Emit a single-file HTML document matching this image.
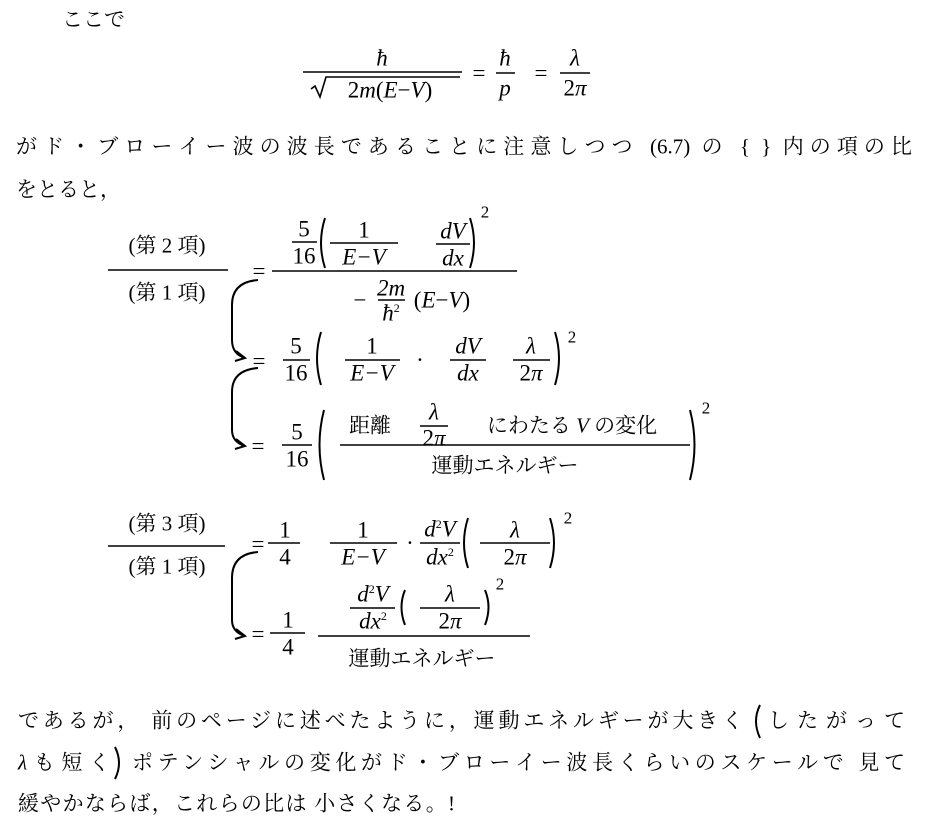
<!DOCTYPE html>
<html><head><meta charset="utf-8"><style>
html,body{margin:0;padding:0;background:#fff;}
body{width:939px;height:830px;position:relative;overflow:hidden;color:#000;font-family:"Liberation Serif","Noto Serif CJK SC",serif;}
.c{position:absolute;transform:translate(-50%,-50%);white-space:nowrap;line-height:1;}
.l{position:absolute;white-space:nowrap;line-height:1;transform:translateY(-50%);}
.j{font-family:"Liberation Serif","Noto Serif CJK SC",serif;font-size:21px;}
.m{font-style:italic;font-size:23px;}
.n{font-size:23px;}
.s{font-size:17px;}
.t{position:absolute;font-size:21px;text-align:justify;text-align-last:justify;line-height:1;transform:translateY(-50%);white-space:nowrap;}
</style></head><body>
<svg width="939" height="830" style="position:absolute;left:0;top:0" fill="none" stroke="#000" stroke-width="1.6">
<line x1="303" y1="72" x2="462" y2="72"/><line x1="496" y1="73" x2="515" y2="73"/><line x1="560" y1="73" x2="590" y2="73"/>
<path d="M311,89 l4,-3 l5,11 l6,-20 h134"/>
<line x1="108" y1="270" x2="228" y2="270"/><line x1="292" y1="242" x2="317" y2="242"/><line x1="330" y1="243" x2="398" y2="243"/><line x1="436" y1="244" x2="470" y2="244"/><line x1="272" y1="271" x2="517" y2="271"/><line x1="378" y1="300" x2="405" y2="300"/>
<line x1="283" y1="360" x2="310" y2="360"/><line x1="345" y1="360" x2="400" y2="360"/><line x1="450" y1="360" x2="486" y2="360"/><line x1="513" y1="360" x2="550" y2="360"/>
<line x1="282" y1="445" x2="312" y2="445"/><line x1="340" y1="445" x2="690" y2="445"/><line x1="420" y1="426" x2="448" y2="426"/>
<line x1="108" y1="546" x2="225" y2="546"/><line x1="268" y1="543" x2="300" y2="543"/><line x1="330" y1="543" x2="397" y2="543"/><line x1="420" y1="543" x2="460" y2="543"/><line x1="480" y1="543" x2="550" y2="543"/>
<line x1="270" y1="633" x2="305" y2="633"/><line x1="318" y1="636" x2="530" y2="636"/><line x1="350" y1="608" x2="395" y2="608"/><line x1="420" y1="608" x2="480" y2="608"/>
<g stroke-width="2">
<path d="M325,218 Q317,243 325,268"/><path d="M470,218 Q478,243 470,268"/>
<path d="M321,332 Q313,358 321,385"/><path d="M555,332 Q563,358 555,385"/>
<path d="M324,410 Q315,445 324,480"/><path d="M690,410 Q699,445 690,480"/>
<path d="M468,518 Q460,543 468,568"/><path d="M550,518 Q558,543 550,568"/>
<path d="M405,590 Q398,607 405,625"/><path d="M485,590 Q492,607 485,625"/>
<path d="M760,705 Q752,721 760,738"/><path d="M115,747 Q123,763 115,779"/>
<path d="M258,280 Q232,282 232,305 L232,340 Q232,354 245,358"/><path d="M236,351 L245,358 L235,361"/>
<path d="M258,368 Q232,370 232,392 L232,430 Q232,442 245,446"/><path d="M236,439 L245,446 L235,449"/>
<path d="M258,552 Q232,554 232,578 L232,620 Q232,632 245,636"/><path d="M236,629 L245,636 L235,639"/>
</g>
</svg>
<div class="l j" style="left:62px;top:20px">ここで</div>
<div class="c m" style="left:382px;top:58px">ħ</div>
<div class="c n" style="left:390px;top:90px">2<i>m</i>(<i>E</i>−<i>V</i>)</div>
<div class="c n" style="left:479px;top:73px">=</div>
<div class="c m" style="left:505px;top:58px">ħ</div>
<div class="c m" style="left:505px;top:88px">p</div>
<div class="c n" style="left:541px;top:73px">=</div>
<div class="c m" style="left:575px;top:58px">λ</div>
<div class="c n" style="left:575px;top:88px">2<i>π</i></div>
<div class="t" style="left:16px;width:896px;top:147px">がド・ブローイー波の波長であることに注意しつつ (6.7) の { } 内の項の比</div>
<div class="l j" style="left:16px;top:190px">をとると，</div>
<div class="c j" style="left:167px;top:246px">(第 2 項)</div>
<div class="c j" style="left:167px;top:293px">(第 1 項)</div>
<div class="c n" style="left:259px;top:271px">=</div>
<div class="c n" style="left:304px;top:229px">5</div><div class="c n" style="left:304px;top:256px">16</div>
<div class="c n" style="left:364px;top:230px">1</div><div class="c m" style="left:364px;top:257px">E−V</div>
<div class="c m" style="left:453px;top:231px">dV</div><div class="c m" style="left:453px;top:258px">dx</div>
<div class="c s" style="left:485px;top:212px">2</div>
<div class="c n" style="left:360px;top:300px">−</div>
<div class="c m" style="left:391px;top:288px">2m</div><div class="c m" style="left:391px;top:313px">ħ<sup style="font-size:12px;font-style:normal">2</sup></div>
<div class="c n" style="left:442px;top:300px">(<i>E</i>−<i>V</i>)</div>
<div class="c n" style="left:259px;top:361px">=</div>
<div class="c n" style="left:296px;top:346px">5</div><div class="c n" style="left:296px;top:373px">16</div>
<div class="c n" style="left:372px;top:346px">1</div><div class="c m" style="left:372px;top:373px">E−V</div>
<div class="c n" style="left:420px;top:360px">·</div>
<div class="c m" style="left:468px;top:346px">dV</div><div class="c m" style="left:468px;top:373px">dx</div>
<div class="c m" style="left:531px;top:346px">λ</div><div class="c n" style="left:531px;top:373px">2<i>π</i></div>
<div class="c s" style="left:572px;top:337px">2</div>
<div class="c n" style="left:258px;top:446px">=</div>
<div class="c n" style="left:297px;top:432px">5</div><div class="c n" style="left:297px;top:459px">16</div>
<div class="c j" style="left:370px;top:426px">距離</div>
<div class="c m" style="left:434px;top:412px">λ</div><div class="c n" style="left:434px;top:438px">2<i>π</i></div>
<div class="c j" style="left:572px;top:426px">にわたる <i style="font-family:'Liberation Serif'">V</i> の変化</div>
<div class="c j" style="left:505px;top:466px">運動エネルギー</div>
<div class="c s" style="left:706px;top:408px">2</div>
<div class="c j" style="left:167px;top:524px">(第 3 項)</div>
<div class="c j" style="left:167px;top:567px">(第 1 項)</div>
<div class="c n" style="left:258px;top:544px">=</div>
<div class="c n" style="left:285px;top:530px">1</div><div class="c n" style="left:285px;top:557px">4</div>
<div class="c n" style="left:363px;top:530px">1</div><div class="c m" style="left:363px;top:557px">E−V</div>
<div class="c n" style="left:410px;top:543px">·</div>
<div class="c m" style="left:440px;top:529px">d<sup style="font-size:12px;font-style:normal">2</sup>V</div><div class="c m" style="left:440px;top:557px">dx<sup style="font-size:12px;font-style:normal">2</sup></div>
<div class="c m" style="left:515px;top:530px">λ</div><div class="c n" style="left:515px;top:557px">2<i>π</i></div>
<div class="c s" style="left:568px;top:518px">2</div>
<div class="c n" style="left:258px;top:634px">=</div>
<div class="c n" style="left:288px;top:620px">1</div><div class="c n" style="left:288px;top:647px">4</div>
<div class="c m" style="left:373px;top:594px">d<sup style="font-size:12px;font-style:normal">2</sup>V</div><div class="c m" style="left:373px;top:621px">dx<sup style="font-size:12px;font-style:normal">2</sup></div>
<div class="c m" style="left:450px;top:594px">λ</div><div class="c n" style="left:450px;top:621px">2<i>π</i></div>
<div class="c s" style="left:500px;top:584px">2</div>
<div class="c j" style="left:422px;top:659px">運動エネルギー</div>
<div class="t" style="left:18px;width:725px;top:721px">であるが， 前のページに述べたように，運動エネルギーが大きく</div>
<div class="t" style="left:768px;width:137px;top:721px">したがって</div>
<div class="t" style="left:18px;width:92px;top:763px"><i style="font-family:'Liberation Serif'">λ</i>も短く</div>
<div class="t" style="left:132px;width:773px;top:763px">ポテンシャルの変化がド・ブローイー波長くらいのスケールで 見て</div>
<div class="t" style="left:18px;width:437px;top:804px">緩やかならば，これらの比は 小さくなる。!</div>
</body></html>
